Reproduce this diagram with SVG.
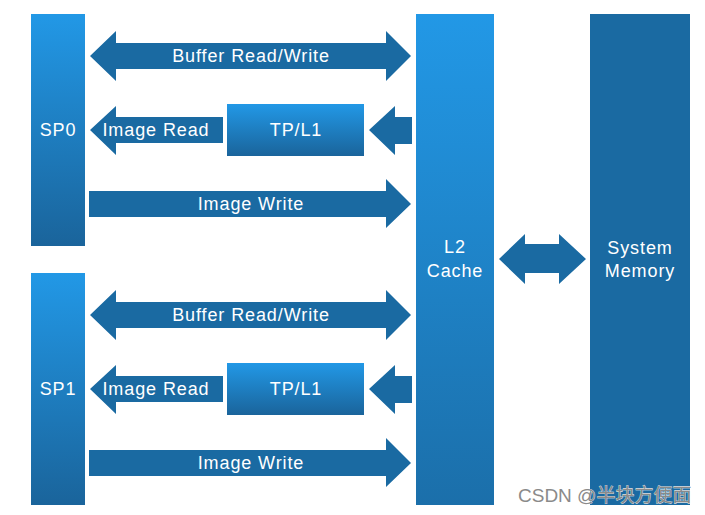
<svg xmlns="http://www.w3.org/2000/svg" width="705" height="515" viewBox="0 0 705 515">
<defs>
<linearGradient id="g" x1="0" y1="0" x2="0" y2="1">
<stop offset="0" stop-color="#2298e6"/>
<stop offset="1" stop-color="#1a649b"/>
</linearGradient>
<linearGradient id="gL2" x1="0" y1="0" x2="0" y2="1">
<stop offset="0" stop-color="#2298e6"/>
<stop offset="1" stop-color="#1b6faa"/>
</linearGradient>
<style>
.t{font-family:"Liberation Sans","Open Sans",sans-serif;font-size:18px;letter-spacing:0.9px;fill:#ffffff;text-anchor:middle;dominant-baseline:central}
.a{fill:#1a6aa2}
.wm{font-family:"Liberation Sans","Noto Sans CJK SC",sans-serif;font-size:19px;fill:#8a8a8a;stroke:#ffffff;stroke-width:0.6;paint-order:stroke}
</style>
</defs>
<rect width="705" height="515" fill="#ffffff"/>
<g id="sp0"><rect x="31" y="14" width="54" height="232" fill="url(#g)"/><text class="t" x="58" y="130">SP0</text></g>
<g id="sp1"><rect x="31" y="273" width="54" height="232" fill="url(#g)"/><text class="t" x="58" y="389">SP1</text></g>
<g id="tpl1-0"><rect x="227" y="104" width="137" height="52" fill="url(#g)"/><text class="t" x="296" y="130">TP/L1</text></g>
<g id="tpl1-1"><rect x="227" y="363" width="137" height="52" fill="url(#g)"/><text class="t" x="296" y="389">TP/L1</text></g>
<g id="l2"><rect x="416" y="14" width="78" height="491" fill="url(#gL2)"/><text class="t" x="455" y="247">L2</text><text class="t" x="455" y="271">Cache</text></g>
<g id="mem"><rect x="590" y="14" width="100" height="491" fill="#1a6aa2"/><text class="t" x="640" y="248">System</text><text class="t" x="640" y="271">Memory</text></g>
<g id="connectors">
<g id="c-sp0">
<path class="a" d="M90,56 L116,31 L116,43 L386,43 L386,31 L411,56 L386,81 L386,69 L116,69 L116,81 Z"/>
<text class="t" x="251" y="56">Buffer Read/Write</text>
<path class="a" d="M90,130 L116,106 L116,117 L223,117 L223,143 L116,143 L116,155 Z"/>
<text class="t" x="156" y="130">Image Read</text>
<path class="a" d="M369,130 L395,106 L395,117 L412,117 L412,144 L395,144 L395,155 Z"/>
<path class="a" d="M89,191 L386,191 L386,179 L411,204 L386,228 L386,217 L89,217 Z"/>
<text class="t" x="251" y="204">Image Write</text>
</g>
<g id="c-sp1" transform="translate(0,259)">
<path class="a" d="M90,56 L116,31 L116,43 L386,43 L386,31 L411,56 L386,81 L386,69 L116,69 L116,81 Z"/>
<text class="t" x="251" y="56">Buffer Read/Write</text>
<path class="a" d="M90,130 L116,106 L116,117 L223,117 L223,143 L116,143 L116,155 Z"/>
<text class="t" x="156" y="130">Image Read</text>
<path class="a" d="M369,130 L395,106 L395,117 L412,117 L412,144 L395,144 L395,155 Z"/>
<path class="a" d="M89,191 L386,191 L386,179 L411,204 L386,228 L386,217 L89,217 Z"/>
<text class="t" x="251" y="204">Image Write</text>
</g>
<path class="a" d="M499,259 L525,234 L525,244 L559,244 L559,234 L586,259 L559,284 L559,273 L525,273 L525,284 Z"/>
</g>
<text class="wm" x="518" y="502">CSDN @半块方便面</text>
</svg>
